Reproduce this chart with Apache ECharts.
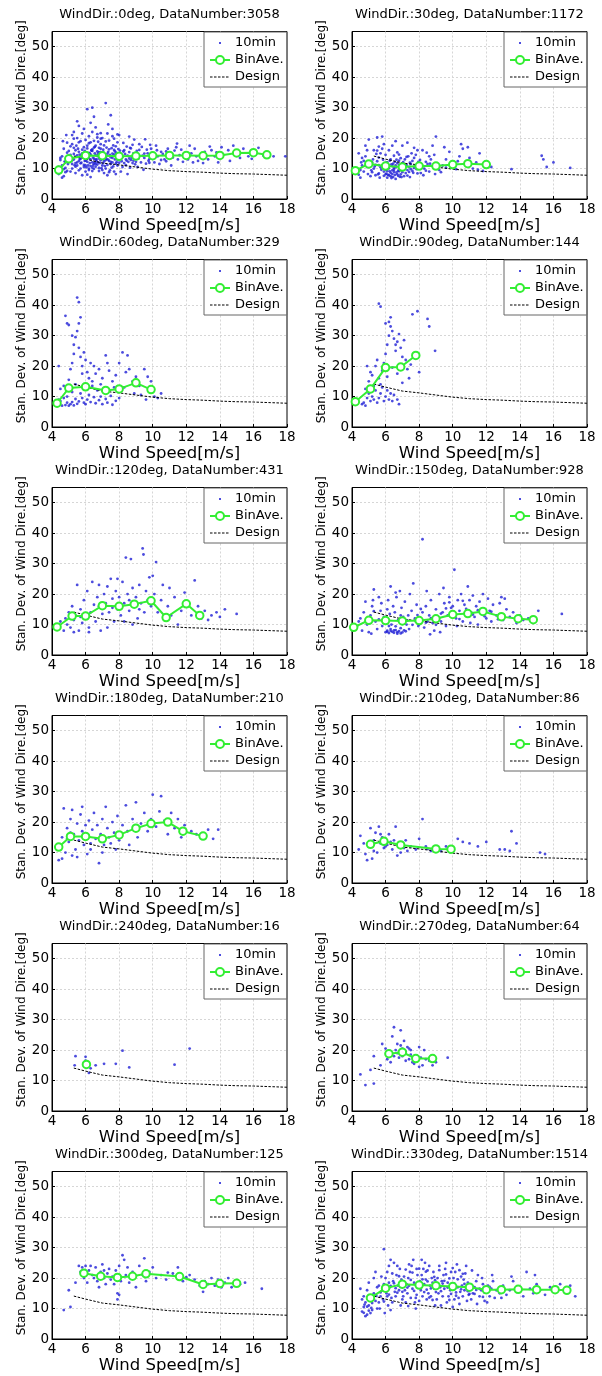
<!DOCTYPE html>
<html>
<head>
<meta charset="utf-8">
<script src="https://cdn.jsdelivr.net/npm/echarts@6/dist/echarts.min.js"></script>
<style>
  html, body { margin: 0; background: #fff; }
  #chart { width: 602px; height: 1376px; }
</style>
</head>
<body>
<div id="chart"></div>
<script>
// panel headers
const directions = [0, 30, 60, 90, 120, 150, 180, 210, 240, 270, 300, 330]
const dataNumbers = [3058, 1172, 329, 144, 431, 928, 210, 86, 16, 64, 125, 1514]

// design curve (same in every panel)
const designSpeed = [5.3, 6, 7, 8, 9, 10, 11, 12, 13, 14, 15, 16, 17, 18]
const designStd = [14.1, 13.1, 11.8, 11.2, 10.5, 9.8, 9.3, 9.0, 8.8, 8.5, 8.3, 8.2, 8.0, 7.8]

// bin averages [wind speed, std dev]
const bin0 = [[4.4,9.5],[5,13.2],[6,14.3],[7,14.2],[8,14],[9,14.1],[10,14.2],[11,14.3],[12,14.3],[13,14.2],[14,14.3],[15,15.1],[16,15.2],[16.8,14.5]]
const bin30 = [[4.2,9.3],[5,11.5],[6,10.8],[7,10.5],[8,10.8],[9,10.8],[10,11.3],[10.9,11.6],[12,11.3]]
const bin60 = [[4.3,7.8],[5,12.8],[6,13.2],[7.2,12],[8,12.5],[9,14.5],[9.9,12.3]]
const bin90 = [[4.2,8.3],[5.1,12.5],[6,19.5],[6.9,19.7],[7.8,23.5]]
const bin120 = [[4.3,9.2],[5.2,12.8],[6,12.8],[7,16.2],[8,16],[8.9,16.7],[9.9,17.8],[10.8,12.3],[12,16.8],[12.8,13]]
const bin150 = [[4.1,9.1],[5,11.4],[6,11.3],[7,11.2],[8,11.3],[9,11.9],[10,13.3],[10.9,13.6],[11.8,14.3],[12.9,12.6],[13.9,11.9],[14.8,11.6]]
const bin180 = [[4.4,11.8],[5.1,15.3],[6,15.3],[7,14.5],[8,15.8],[9,18],[9.9,19.5],[10.9,20],[11.8,17],[13,15.4]]
const bin210 = [[5.1,12.7],[5.9,13.7],[6.9,12.5],[9,11.2],[9.9,11.1]]
const bin240 = [[6.05,15.3]]
const bin270 = [[6.2,18.8],[7,19.3],[7.8,17.2],[8.8,17.2]]
const bin300 = [[5.9,21.6],[6.9,20.6],[7.9,20.2],[8.8,20.6],[9.6,21.4],[11.6,20.5],[13,17.9],[14,18.2],[15,18.3]]
const bin330 = [[5.1,13.5],[6,16.7],[7,18],[8,17.7],[9,17.5],[10,17.2],[11,17],[12,16.2],[12.9,16.2],[13.9,16.3],[15,16.2],[16.1,16.2],[16.8,16]]

// 10-minute samples [wind speed, std dev]
const scatter0 = [
  [4.4,8.2],[4.5,9.5],[4.6,11],[4.5,12.8],[4.7,7.5],[4.8,10.2],[4.6,14],[4.9,13],[4.7,16.5],[4.8,8.8],[4.9,18.5],[4.4,10.5],[4.6,7],[4.8,12],[4.9,15.2],[4.7,9.8],[4.5,13.5],[4.95,11.5],[4.85,21],[4.65,19],
  [5.1,9],[5.2,11.5],[5.3,13],[5.1,14.5],[5.4,16],[5.2,18],[5.5,20],[5.3,22],[5.6,24],[5.4,8.5],[5.7,10],[5.5,12],[5.8,13.8],[5.6,15.5],[5.9,17],[5.7,19],[5.8,21.5],[5.9,11.2],[5.2,12.7],[5.5,14.3],[5.3,16.8],[5.6,9.4],[5.8,7.8],[5.4,10.6],[5.0,15.8],[5.7,13.1],[5.9,14.9],[5.1,17.3],[5.6,18.6],[5.3,19.8],[5.9,23],[5.5,25.5],[5.2,21],[5.7,11.7],[5.8,16.2],[5.4,13.9],[5.05,12.2],[5.65,14.6],[5.35,11.1],[5.95,12.5],
  [6.1,8],[6.2,9.5],[6.3,10.8],[6.4,12],[6.5,13.2],[6.6,14.4],[6.7,15.6],[6.8,16.8],[6.9,18],[6.0,19.4],[6.2,20.6],[6.4,22],[6.6,23.5],[6.3,25],[6.5,27],[6.4,30],[6.1,29.5],[6.7,11.3],[6.9,12.7],[6.0,13.9],[6.2,15.1],[6.4,16.3],[6.6,17.5],[6.8,9.2],[6.05,10.4],[6.25,11.8],[6.45,13.6],[6.65,12.4],[6.85,14.1],[6.15,14.8],[6.35,15.9],[6.55,17.1],[6.75,18.8],[6.95,10.1],[6.1,16.6],[6.3,7.2],[6.5,9.9],[6.7,20.2],[6.9,21.6],[6.2,18.3],[6.8,13.3],[6.6,11.5],[6.4,10.3],[6.0,12.6],[6.9,15.4],[6.5,19.1],[6.3,13.0],[6.75,12.0],[6.15,11.0],[6.55,15.0],
  [7.1,8.5],[7.2,10],[7.3,11.2],[7.4,12.5],[7.5,13.7],[7.6,14.9],[7.7,16.1],[7.8,17.3],[7.9,18.6],[7.0,20],[7.3,21.5],[7.6,23],[7.2,31.5],[7.5,27.5],[7.05,11.8],[7.25,13.2],[7.45,9.4],[7.65,10.7],[7.85,12.1],[7.15,14.3],[7.35,15.5],[7.55,16.7],[7.75,13.0],[7.95,14.0],[7.1,17.6],[7.4,19.2],[7.7,9.0],[7.9,11.0],[7.3,7.8],[7.6,12.0],[7.8,15.2],[7.0,14.8],[7.2,12.8],[7.5,11.5],[7.7,19.8],[7.9,21.2],[7.35,24.5],[7.05,16.2],
  [8.1,9],[8.2,10.5],[8.3,11.8],[8.4,13],[8.5,14.2],[8.6,15.4],[8.7,16.6],[8.8,17.8],[8.9,19.5],[8.0,21],[8.15,12.4],[8.35,14.8],[8.55,12.2],[8.75,13.6],[8.95,11.4],[8.05,15.9],[8.45,17.2],[8.65,10.3],[8.85,15.0],[8.25,18.4],[8.5,8.2],[8.7,12.8],[8.3,16.0],[8.9,13.9],[8.1,13.4],[8.6,20.5],
  [9.1,10.5],[9.3,12],[9.5,13.5],[9.7,15],[9.9,16.5],[9.2,18],[9.4,14.2],[9.6,11.6],[9.8,13.1],[9.05,15.8],[9.35,17.1],[9.55,19.6],[9.75,12.6],[9.95,14.6],[9.15,13.3],[9.45,9.6],[9.85,17.8],[9.65,16.2],
  [10.1,12],[10.3,14],[10.5,15.5],[10.7,13],[10.9,16.5],[10.2,17.5],[10.4,11.5],[10.6,14.8],[10.8,12.4],[11.0,15.2],[11.2,13.6],[11.4,17],[11.6,14.4],[11.8,12.2],[11.1,11],[11.3,15.9],[11.5,13],[11.7,16.2],[11.9,14.8],[10.25,16],[11.45,18.2],
  [12.1,13],[12.3,15],[12.5,16.5],[12.7,12.5],[12.9,14.5],[13.1,15.5],[13.3,13],[13.5,16],[13.7,14],[13.9,12],[12.2,17.5],[12.6,14],[13.0,11.8],[13.4,17.2],[13.8,15.3],[12.4,12],
  [14.2,14.5],[14.5,16],[14.8,17.5],[15.0,15],[15.2,13.5],[15.4,16.5],[15.7,14],[16.0,15.5],[16.3,16.8],[16.6,14.2],[16.9,15.2],[17.2,14],[17.9,14],[14.6,12.5],[15.9,13.2],[14.1,17],
  [5.5,11],[5.6,12.5],[5.7,14],[5.8,15],[5.9,10.5],[5.55,16.5],[5.65,13.2],[5.75,11.9],[5.85,14.5],[5.95,15.8],
  [6.0,11],[6.1,12.2],[6.2,13.4],[6.3,14.6],[6.4,15.8],[6.5,11.6],[6.6,12.9],[6.7,14.1],[6.8,15.3],[6.9,16.5],
  [6.05,13],[6.15,14],[6.25,15],[6.35,16],[6.45,11],[6.55,12],[6.65,13],[6.75,14.8],[6.85,11.8],[6.95,13.7],
  [6.0,9],[6.2,10],[6.4,9.2],[6.6,10.6],[6.8,10.2],[6.1,17.5],[6.3,18.6],[6.5,16.9],[6.7,21.3],[6.9,19.8],
  [7.0,11],[7.1,12.4],[7.2,13.8],[7.3,14.9],[7.4,16.3],[7.5,12.2],[7.6,13.5],[7.7,14.6],[7.8,11.6],[7.9,12.9],
  [7.05,15.4],[7.15,10.8],[7.25,16.9],[7.35,12.9],[7.45,14.5],[7.55,10.3],[7.65,17.6],[7.75,15.7],[7.85,13.8],[7.95,16.4],
  [7.0,9.5],[7.4,8.8],[7.8,8.2],[7.2,18.9],[7.6,20.6],[8.0,11.9],[8.2,13.8],[8.4,11.1],[8.6,13.3],[8.8,11.8],
  [8.05,14.5],[8.25,15.6],[8.45,12.6],[8.65,16.8],[8.85,12.6],[5.2,10],[5.4,11.8],[5.1,13.5],[5.3,14.8],[5.45,17.5],
  [4.9,9.2],[4.75,12.3],[9.0,12.2],[9.2,16.1],[9.5,14.9],[9.8,11.9],[10.0,13.7],[10.5,12.8],[11.0,13.9],[10.8,15.6]
]
const scatter30 = [
  [4.4,8],[4.5,9.5],[4.6,11],[4.7,12.5],[4.8,14],[4.9,16],[4.5,7],[4.7,9],[4.9,10.5],[4.6,13.5],[4.8,17.5],[4.4,15],[4.95,8.2],[4.55,12],
  [5.1,7.5],[5.2,8.8],[5.3,10],[5.4,11.2],[5.5,12.4],[5.6,13.6],[5.7,15],[5.8,16.5],[5.9,18],[5.0,19.5],[5.5,20.2],[5.8,20.5],[5.15,9.4],[5.35,10.7],[5.55,8.1],[5.75,9.6],[5.95,11.8],[5.25,13],[5.45,14.8],[5.65,7],[5.85,12.9],[5.05,11.5],[5.6,17.2],[5.3,16],[5.9,9],
  [6.1,7],[6.2,7.8],[6.3,8.6],[6.4,9.4],[6.5,10.2],[6.6,11],[6.7,11.8],[6.8,12.6],[6.9,13.4],[6.0,14.5],[6.2,16],[6.4,17.5],[6.6,19],[6.05,8.3],[6.25,9.1],[6.45,7.2],[6.65,8.7],[6.85,9.9],[6.15,10.6],[6.35,11.4],[6.55,12.2],[6.75,7.6],[6.95,10.5],[6.1,12],[6.3,13],[6.5,14.2],[6.7,15.3],[6.9,8.1],[6.6,6.6],[6.4,10.8],[6.2,11.1],[6.8,11.2],[6.0,9.6],[6.5,8.9],[6.35,6.9],[6.75,9.3],
  [7.1,7.5],[7.2,8.5],[7.3,9.5],[7.4,10.5],[7.5,11.5],[7.6,12.5],[7.7,13.5],[7.8,14.5],[7.9,16],[7.0,17.5],[7.3,18.5],[7.05,10],[7.25,11.2],[7.45,7.2],[7.65,8.6],[7.85,9.8],[7.15,13],[7.55,15],[7.75,11],[7.95,12.2],[7.35,14],[7.6,9.2],
  [8.1,8.5],[8.3,10],[8.5,11.5],[8.7,13],[8.9,14.5],[8.2,16],[8.4,12.2],[8.6,9],[8.8,10.8],[8.05,12.8],[8.45,15.2],[8.95,8.2],[8.65,11.6],[8.25,7.8],[9.0,20.5],[8.8,17.5],
  [9.2,9.5],[9.4,11],[9.6,13],[9.8,15.5],[10.0,12],[10.2,9.8],[10.4,14],[10.6,16.5],[10.8,11],[11.0,13.5],[11.2,10],[11.4,12],[11.6,15],[11.8,9.2],[12.0,11.5],[12.3,10.5],[9.5,17],[10.5,18],[10.9,17],[9.3,8.8],[10.1,10.6],[11.5,9.6],
  [15.3,14.2],[15.4,13],[15.6,10.5],[16.0,12],[17.0,10.2],[13.5,9.8],
  [5.6,8.4],[5.7,10.4],[5.8,11.1],[5.9,7.6],[6.0,8.1],[6.1,9.2],[6.2,10.1],[6.3,7.5],[6.4,8.2],[6.5,9.6],[6.6,10.4],[6.7,8.1],[6.8,9.1],[6.9,10.8],[7.0,8.8],[7.1,9.9],[7.2,11.1],[7.3,7.7],[7.4,8.9],[7.5,9.8],
  [6.05,11.9],[6.25,12.6],[6.45,11.6],[6.65,12.9],[6.85,7.3],[7.05,12.1],[7.25,13.8],[7.45,11.9],[5.4,7.8],[5.6,11.1],[6.15,7.9],[6.55,7.9],[6.95,7.2],[7.7,10.2],[7.9,8.4],[8.1,11.3],[8.4,9.3],[5.2,12],[5.5,15.9],[6.8,14.6],[7.7,16.8],[8.6,14],[9.6,10.3],[10.3,12.4]
]
const scatter60 = [
  [4.3,7.5],[4.5,8.5],[4.6,7],[4.7,9.5],[4.8,7.2],[4.9,8],[5.0,7],[5.1,7.5],[5.2,8.2],[5.3,7.1],[4.4,9],[4.9,10],[5.4,9.2],[5.5,7.6],[5.6,8.4],[5.8,9.5],[5.9,8],[6.0,7.5],[6.1,9],[6.2,10.5],[6.3,8.2],[6.5,9.8],[6.6,7.8],[6.8,8.8],[6.9,10],[7.0,7.5],[7.2,9.2],[7.3,8],[7.5,10.2],[7.6,7.3],[7.8,8.6],[8.0,9.5],[7.1,11.5],[6.7,12],[6.4,13.5],[5.9,12.5],[5.7,11],[5.2,11.5],[5.4,14],
  [4.8,36.5],[4.9,34],[5.0,33.5],[5.2,30],[5.3,27],[5.5,42.5],[5.6,41],[5.7,36],[5.6,34],[5.5,31.5],[5.4,29.5],[5.3,24],[5.2,21],[5.1,19],[5.6,26],[5.7,23],[5.8,20],[5.9,24.5],[6.0,22],[6.1,18],[6.2,16],[6.3,21],[6.5,20],[6.6,17.5],[6.8,19],[7.0,16],[7.2,23.5],[7.3,21],[7.4,18.5],[7.6,15],[7.8,17],[8.0,21],[8.2,24.5],[8.4,18],[8.5,23.5],[8.6,19],[8.8,15],[9.0,16.5],[9.2,13.5],[9.5,19],[9.7,16.5],[9.9,15],[10.0,11.5],[10.1,10],[10.3,9.5],[10.5,11],[8.9,11],[9.3,10.5],[9.6,9],[8.3,13],[7.9,12],[7.7,13],[4.5,12.5],[4.7,13.5],[5.0,15.5],[6.4,15],[6.9,14],[5.8,17.5],[4.4,20]
]
const scatter90 = [
  [4.3,8.5],[4.6,7.5],[4.7,8],[4.8,7],[4.9,9.5],[5.0,11],[5.1,8.5],[5.2,10],[5.3,9],[5.4,12],[5.5,8],[5.6,9.5],[5.7,11],[5.8,13],[5.9,8.5],[6.0,10],[6.1,12],[6.2,9],[6.3,11],[6.4,8.5],[6.5,10.5],[6.7,9],[6.8,7.5],[4.8,12.5],[5.0,15],[5.2,17],[5.4,20],[5.5,22],[5.3,13.5],[5.7,14],[5.6,16],[5.8,18.5],[5.9,21],[6.0,24],[6.1,27],[6.2,30],[6.3,33],[6.4,31.5],[6.5,29],[6.6,27],[6.3,36],[6.2,34.5],[5.6,40.5],[5.7,39.5],[6.0,34],[6.6,25],[6.7,28],[6.8,30.5],[6.9,26],[7.0,23],[7.1,28.5],[7.2,22],[6.9,19],[6.7,17.5],[7.0,14.5],[7.3,19],[7.4,16],[7.6,37],[7.9,38],[8.0,18],[8.5,35.5],[8.6,33],[8.95,25],[7.5,20.5],[5.1,18],[4.9,20],[6.1,16.5],[6.4,19.5]
]
const scatter120 = [
  [4.4,9],[4.5,11],[4.7,8],[4.8,12],[4.9,10],[5.0,14],[5.1,9],[5.2,16],[5.3,11.5],[5.4,13],[5.5,23],[5.6,8],[5.7,15],[5.8,10.5],[5.9,18],[6.0,12],[6.1,21],[6.2,9],[6.3,14],[6.4,24],[6.5,16.5],[6.6,11],[6.7,19],[6.8,23],[6.9,8],[7.0,13.5],[5.3,7.5],[5.7,12.5],[6.2,7.5],[6.8,16],
  [7.1,20],[7.2,17],[7.3,22.5],[7.4,14],[7.5,25],[7.6,18.5],[7.7,11],[7.8,21],[7.9,15],[8.0,19],[8.1,13],[8.2,24],[8.3,17],[8.4,32],[8.5,20],[8.6,14.5],[8.7,31.5],[8.8,22],[8.9,16],[9.0,19],[9.1,12],[9.2,23],[9.3,17],[9.4,35],[9.45,33],[9.5,14],[9.6,21],[9.7,18],[9.8,25.5],[9.9,16],[10.0,26],[10.1,20],[10.2,30.5],[7.3,9],[7.9,25],[8.3,11],[8.8,10],[9.2,15],[7.6,15.5],[8.6,18],
  [10.3,14],[10.5,18],[10.7,11.5],[10.9,16],[11.1,13],[11.3,19],[11.5,10],[11.7,14.5],[11.9,20.5],[12.1,17],[12.3,13],[12.5,24.5],[12.7,16],[12.9,12],[13.1,14.5],[13.3,11.5],[13.5,13],[13.8,14],[14.0,12.5],[14.3,15],[15.0,13.5],[11.0,22],[10.6,23]
]
const scatter150 = [
  [4.3,9.5],[4.5,12],[4.6,8],[4.7,14],[4.8,17.5],[4.9,10],[5.0,7.5],[5.1,13],[5.2,16],[5.3,21.5],[5.4,11],[5.5,8.5],[5.6,19],[5.7,14.5],[5.8,9.5],[5.9,12.5],[4.4,11],[5.25,18],[5.75,17],[5.15,7],
  [6.0,7.5],[6.1,8],[6.2,7.2],[6.3,8.5],[6.4,7.6],[6.5,7.3],[6.6,8.2],[6.7,7],[6.8,7.8],[6.9,8.8],[7.0,7.4],[7.1,8.1],[6.05,11],[6.25,13.5],[6.45,16],[6.65,19],[6.85,21],[7.05,12.5],[6.15,18],[6.35,10],[6.55,14],[6.75,11.5],[6.95,15.5],[7.15,17.5],[7.25,10],[7.35,13],[7.45,20],[7.55,14.5],[7.65,23.5],[7.75,12],[7.85,16.5],[7.95,9.5],[6.3,22.5],[6.6,20.5],[7.4,8.5],[7.8,11],[6.1,15],[6.9,13],
  [8.0,10],[8.1,12],[8.2,14],[8.3,9],[8.4,16],[8.5,11],[8.6,13],[8.7,18],[8.8,10.5],[8.9,8],[9.0,15],[9.1,12.5],[9.2,20],[9.3,11],[9.4,14],[9.5,17],[9.6,9.5],[9.7,13],[9.8,19],[9.9,15.5],[8.2,38],[8.45,21],[9.25,7.5],[8.65,6.8],[9.45,22],
  [10.0,16],[10.1,28],[10.2,12],[10.3,18],[10.4,14.5],[10.5,20],[10.6,11],[10.7,16.5],[10.8,13],[10.9,22.5],[11.0,18],[11.1,14],[11.2,19.5],[11.3,12.5],[11.4,16],[11.5,10],[11.6,17.5],[11.7,13.5],[11.8,20],[11.9,15],[12.0,12],[12.1,18.5],[12.2,14.5],[12.3,11],[12.4,16.5],[10.25,9.5],[11.05,10.5],
  [12.6,13],[12.8,17],[13.0,11.5],[13.2,15],[13.4,12.5],[13.6,14],[13.8,10.5],[14.0,13],[14.2,11.5],[14.5,12],[14.8,11],[15.1,14.5],[16.5,13.5],[13.1,18.5],[12.9,19],
  [6.1,7.6],[6.3,7.9],[6.5,8.1],[6.7,7.5],[6.9,7.1],[7.2,7.8],[6.2,9.5],[6.6,9.4],[7.0,10.2],[7.3,11.3],[7.6,9.9],[7.9,13.1],[8.1,15.1],[8.4,10.6],[8.7,12.1],[9.0,9.9],[9.3,13.6],[9.6,15.3],[10.1,13.4],[10.4,11.8],[10.8,15.1],[11.2,13.3],[11.5,14.7],[11.9,12.7],[12.3,14.2],[12.7,11.7],[10.6,17.8],[9.8,17.3],[5.6,11.7],[5.3,14.4]
]
const scatter180 = [
  [4.4,7.5],[4.5,12],[4.6,15],[4.7,24.5],[4.8,10],[4.9,18],[5.0,13.5],[5.1,21],[5.2,24],[5.3,16],[5.4,11],[5.5,19.5],[5.6,14],[5.7,22.5],[5.8,17],[5.9,12.5],[6.0,19],[6.1,15],[6.2,20.5],[6.3,11],[6.4,17.5],[6.5,23],[6.6,14.5],[6.7,19],[6.8,6.5],[6.9,16],[7.0,21],[7.1,12.5],[7.2,25],[7.3,18],[7.4,15],[7.5,13],[7.6,20],[7.7,16.5],[7.8,11],[7.9,22],[8.0,14],[8.2,19],[8.4,25.5],[8.5,17],[8.6,12.5],[8.8,21],[9.0,26.5],[9.1,15],[9.3,19.5],[9.5,23],[9.7,17],[9.9,21],[10.0,29],[10.2,18.5],[10.4,23.5],[10.5,28.5],[10.7,20.5],[10.9,16],[11.1,23],[11.3,18],[11.5,21],[11.7,15],[11.9,19],[12.3,17],[12.6,16],[13.0,15],[13.3,17.5],[13.6,14.5],[13.9,17.5],[4.6,8],[5.2,9],[5.5,8.5],[4.9,14.5],[6.3,13],[7.0,10],[5.1,16.5],[5.8,25],[6.1,9.5]
]
const scatter210 = [
  [4.4,11],[4.5,15.5],[4.7,13],[4.8,9.5],[4.9,7.5],[5.0,12],[5.1,18],[5.2,8],[5.3,14],[5.4,16.5],[5.5,10],[5.6,18.5],[5.7,13],[5.8,15],[5.9,11.5],[6.0,14.5],[6.1,12.5],[6.2,16],[6.3,13.5],[6.4,11],[6.5,14],[6.6,18.5],[6.8,12],[6.9,10],[7.0,13],[7.1,11.5],[7.2,14],[7.5,12],[7.8,11],[8.0,14.5],[8.2,21],[8.4,12],[8.7,10.5],[9.0,11.5],[9.3,10.5],[9.6,12],[9.9,11],[10.3,14.5],[10.6,13.5],[11.0,13],[11.5,12],[12.0,13.5],[12.8,11],[13.1,11],[13.4,10.5],[13.8,13],[13.5,17],[15.2,10],[15.5,9.5],[6.7,9],[5.3,10.5],[5.7,16],[7.3,10.5],[6.0,12],[8.5,11.2]
]
const scatter240 = [
  [5.4,18],[5.35,15],[6.0,17.8],[6.0,16.5],[6.1,14.5],[6.2,12.5],[6.05,15.8],[6.6,15],[7.1,15.5],[7.8,15.5],[8.2,19.8],[8.6,14.3],[11.3,15.2],[12.2,20.5],[6.3,14],[5.9,15.2]
]
const scatter270 = [
  [4.5,12],[4.8,8.5],[5.1,13.5],[5.3,9],[5.3,18],[5.7,15],[5.8,22],[6.0,20.5],[6.1,17],[6.2,19.5],[6.3,16],[6.4,24.5],[6.5,18],[6.5,27.5],[6.6,20],[6.7,22],[6.8,17.5],[6.9,26.5],[7.0,20.5],[7.0,18],[7.1,23],[7.2,16.5],[7.2,19.5],[7.3,21],[7.4,17],[7.5,18.5],[7.5,20],[7.6,16],[7.7,15.5],[7.8,18],[7.9,16.5],[8.0,21],[8.1,17.5],[8.2,15],[8.3,20],[8.4,17],[8.6,16.5],[8.8,15],[9.0,16],[9.7,17.5],[6.7,19],[7.9,17],[6.3,19],[7.4,20.5],[6.9,21.5],[8.0,14.5]
]
const scatter300 = [
  [4.7,9.5],[5.0,16],[5.1,10.5],[5.4,18.5],[5.6,24],[5.7,22],[5.8,23.5],[5.9,20],[6.0,24],[6.1,18.5],[6.2,22.5],[6.3,24],[6.4,21],[6.6,23.5],[6.7,19],[6.8,17],[6.9,22],[7.0,24.5],[7.1,20],[7.2,18],[7.3,21.5],[7.4,23],[7.5,19.5],[7.6,20.5],[7.7,18],[7.8,22.5],[7.9,13],[8.0,24],[8.1,19],[8.2,27.5],[8.3,26],[8.4,21],[8.5,23.5],[8.6,18.5],[8.7,20.5],[8.8,22],[9.0,17],[9.2,24],[9.4,21],[9.5,26.5],[9.6,19],[9.8,22],[10.0,23.5],[10.2,20],[10.5,21],[10.8,19.5],[11.2,21.5],[11.5,23.5],[11.8,19],[12.2,21],[12.5,19.5],[12.8,17.5],[13.0,15.5],[13.1,19],[13.3,18],[13.5,20],[13.7,17.5],[13.9,19.5],[14.1,17],[14.3,18.5],[14.5,20],[14.7,17],[15.0,19],[15.2,18],[15.5,18.5],[16.5,16.5],[7.9,15],[8.0,14.5],[6.5,20],[7.1,22.5],[8.9,20.2],[10.9,21.8],[12.0,20.3]
]
const scatter330 = [
  [4.6,9],[4.7,10.5],[4.8,12],[4.9,8],[5.0,11],[5.1,13.5],[5.2,9.5],[5.3,15],[5.4,12.5],[5.5,17],[4.7,14],[4.9,16],[5.1,8.5],[5.3,20],[5.5,10],[4.8,7.5],[5.0,18.5],[5.2,11.8],[5.4,22],[4.6,13],[4.5,16.5],[5.45,14.2],[5.15,10.2],[4.75,11.3],
  [5.6,12],[5.7,14],[5.8,16],[5.9,18],[6.0,20],[6.1,22],[6.2,24],[6.3,26],[5.65,10],[5.85,13],[6.05,15],[6.25,17],[6.45,19],[6.65,21],[6.85,23],[5.75,20.5],[5.95,8.5],[6.15,11],[6.35,13.5],[6.55,15.5],[6.75,17.5],[6.95,19.5],[6.4,12],[6.6,14],[6.8,16],[7.0,13],[6.2,18.5],[6.0,16.5],[5.9,29.5],[6.5,25],[6.9,11],[5.6,17.5],[6.3,9.5],[6.7,24],[6.1,14],
  [7.05,14],[7.15,16],[7.25,18],[7.35,20],[7.45,22],[7.55,24],[7.65,26],[7.75,12],[7.85,14.5],[7.95,17],[8.05,19],[8.15,21],[8.25,23],[8.35,25],[8.45,13],[8.55,15],[8.65,17.5],[8.75,20],[8.85,22],[8.95,11],[7.1,20.5],[7.3,15],[7.5,13.5],[7.7,18.5],[7.9,21],[8.1,16],[8.3,18],[8.5,22.5],[8.7,14],[8.9,16.5],[7.2,12],[7.4,24.5],[7.6,16.5],[7.8,10],[8.0,12.5],[8.2,14],[8.4,19.5],[8.6,24],[8.8,18.5],[7.0,17],[7.35,10.8],[7.85,23],[8.45,16.2],[8.15,26],[8.95,19.3],
  [9.05,13],[9.15,15],[9.25,17],[9.35,19],[9.45,21],[9.55,23],[9.65,12],[9.75,14],[9.85,16],[9.95,18],[10.05,20],[10.15,22],[10.25,24.5],[10.35,13.5],[10.45,15.5],[10.55,17.5],[10.65,19.5],[10.75,21.5],[10.85,12.5],[10.95,14.5],[9.1,20],[9.3,11],[9.5,16.5],[9.7,18.5],[9.9,22],[10.1,13],[10.3,17],[10.5,20.5],[10.7,16],[10.9,18.5],[9.2,24],[9.6,25],[10.0,10.5],[10.4,11.5],[10.8,24],[9.4,14],[9.8,12.8],[10.2,15.3],[10.6,14],[11.0,17],
  [11.1,13],[11.2,15],[11.3,17],[11.4,19],[11.5,21],[11.6,14],[11.7,16],[11.8,18],[11.9,12.5],[12.0,15.5],[12.1,17.5],[12.2,14],[12.3,16.5],[12.4,19],[12.5,13.5],[12.6,16],[11.15,22.5],[11.45,11.5],[11.75,20],[12.05,12],[12.35,21],
  [12.8,15],[13.0,17.5],[13.2,14.5],[13.4,16],[13.6,19],[13.8,15.5],[14.0,17],[14.2,14],[14.4,22],[14.6,16.5],[14.8,15],[15.0,18],[15.2,16],[15.5,14.5],[15.8,17],[16.1,15.5],[16.4,18],[16.7,16],[17.0,17.5],[17.3,14],[13.5,20.5],[12.9,13.5],[14.9,21],[16.2,17],
  [6.1,16.2],[6.3,17.4],[6.5,18.3],[6.7,15.2],[6.9,17.1],[7.1,18.7],[7.3,16.9],[7.5,19.4],[7.7,15.8],[7.9,18.1],[8.1,17.6],[8.3,15.4],[8.5,18.9],[8.7,16.6],[8.9,20.4],[9.1,17.8],[9.3,15.7],[9.5,19.1],[9.7,16.9],[9.9,14.8],[10.1,18.2],[10.3,19.6],[10.5,16.3],[10.7,18.1],[10.9,15.7],[11.1,17.8],[11.3,14.8],[11.6,16.5],[11.9,15.2],[12.2,17.1],
  [6.2,14.6],[6.6,16.7],[7.0,15.5],[7.4,17.5],[7.8,13.5],[8.2,19.6],[8.6,13.6],[9.0,15.4],[9.4,18.2],[9.8,19.9],[10.2,14.2],[10.6,21.4],[11.0,14.8],[11.4,16.1],[11.8,13.8],
  [5.7,15.3],[5.9,12.3],[6.4,21.5],[6.8,20.6],[7.2,22.8],[7.6,21.8],[8.0,23.1],[8.4,22.1],[8.8,12.8],[9.2,22.6],[9.6,21.2],[10.0,23.3],[10.4,22.6],[4.9,10.6],[5.2,12.9],[5.0,9.3],[4.7,8.6]
]

const scatterSets = [scatter0, scatter30, scatter60, scatter90, scatter120, scatter150,
  scatter180, scatter210, scatter240, scatter270, scatter300, scatter330]
const binSets = [bin0, bin30, bin60, bin90, bin120, bin150,
  bin180, bin210, bin240, bin270, bin300, bin330]

const font = "DejaVu Sans"
const blue = "#1f1fd6"
const green = "#33ee33"

// legend icons: a small dot and a dashed line, padded to the icon box
const dotIcon = "path://M0,0M20,10M9,4h2v2h-2z"
const dashIcon = "path://M0,0M20,10M0,4.5h2.5v1h-2.5zM4,4.5h2.5v1h-2.5zM8,4.5h2.5v1h-2.5zM12,4.5h2.5v1h-2.5zM16,4.5h2.5v1h-2.5z"

const gridLine = { show: true, showMinLine: false, showMaxLine: false, lineStyle: { color: "#d6d6d6", type: [2, 2] } }

const grid = [], xAxis = [], yAxis = [], title = [], legend = [], series = []

directions.forEach((dir, i) => {
  const col = i % 2
  const row = Math.floor(i / 2)
  const left = col ? 352 : 52
  const top = row * 228 + 31.5

  grid.push({
    left, top, width: 235, height: 167.5,
    show: true, borderColor: "#000", borderWidth: 1, backgroundColor: "#fff",
  })
  title.push({
    text: `WindDir.:${dir}deg, DataNumber:${dataNumbers[i]}`,
    left: left + 117.5,
    top: row * 228 + 8,
    textAlign: "center",
    padding: 0,
    textStyle: { fontFamily: font, fontSize: 13, fontWeight: "normal", color: "#000" },
  })
  xAxis.push({
    gridIndex: i, type: "value", min: 4, max: 18, interval: 2,
    name: "Wind Speed[m/s]", nameLocation: "middle", nameGap: 13,
    nameTextStyle: { fontFamily: font, fontSize: 16.5, color: "#000" },
    axisLine: { lineStyle: { color: "#000" } },
    axisTick: { inside: true, length: 3, lineStyle: { color: "#000" } },
    axisLabel: { fontFamily: font, fontSize: 13.5, color: "#000", margin: 3 },
    splitLine: gridLine,
  })
  yAxis.push({
    gridIndex: i, type: "value", min: 0, max: 55, interval: 10,
    name: "Stan. Dev. of Wind Dire.[deg]", nameLocation: "middle", nameGap: 22,
    nameTextStyle: { fontFamily: font, fontSize: 12, color: "#000", padding: [0, 0, 0, 15] },
    axisLine: { lineStyle: { color: "#000" } },
    axisTick: { inside: true, length: 3, lineStyle: { color: "#000" } },
    axisLabel: { fontFamily: font, fontSize: 13.5, color: "#000", margin: 3, showMaxLabel: false },
    splitLine: gridLine,
  })
  legend.push({
    data: [
      { name: "10min", icon: dotIcon },
      { name: "BinAve." },
      { name: "Design", icon: dashIcon },
    ],
    orient: "vertical",
    left: left + 152,
    top: row * 228 + 32,
    padding: [4, 3, 3, 5],
    itemWidth: 20,
    itemHeight: 10,
    itemGap: 3,
    selectedMode: false,
    backgroundColor: "#fff",
    borderColor: "#666",
    borderWidth: 1,
    borderRadius: 0,
    textStyle: { fontFamily: font, fontSize: 13, color: "#000", lineHeight: 14 },
  })

  series.push({
    name: "10min", type: "scatter", xAxisIndex: i, yAxisIndex: i,
    data: scatterSets[i], symbolSize: 2.8, silent: true,
    itemStyle: { color: blue },
  })
  series.push({
    name: "Design", type: "line", xAxisIndex: i, yAxisIndex: i,
    data: designSpeed.map((s, k) => [s, designStd[k]]),
    symbol: "none", silent: true,
    itemStyle: { color: "#000" },
    lineStyle: { color: "#000", width: 1, type: [2.5, 1.5] },
  })
  series.push({
    name: "BinAve.", type: "line", xAxisIndex: i, yAxisIndex: i,
    data: binSets[i], symbol: "emptyCircle", symbolSize: 7.5, silent: true,
    itemStyle: { color: green, borderWidth: 1.5 },
    lineStyle: { color: green, width: 2 },
  })
})

const chart = echarts.init(document.getElementById("chart"), null, { renderer: "canvas" })
chart.setOption({
  animation: false,
  backgroundColor: "#fff",
  title, grid, xAxis, yAxis, legend, series,
})
</script>
</body>
</html>
